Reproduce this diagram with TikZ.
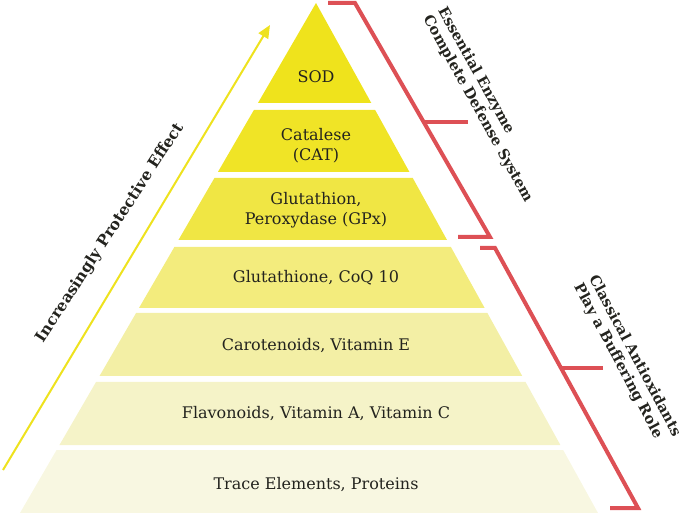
\documentclass[tikz,border=0pt]{standalone}
\usepackage{fontspec}
\setmainfont{DejaVu Serif}
\usetikzlibrary{arrows.meta}

\definecolor{bandA}{RGB}{239,227,28}
\definecolor{bandB}{RGB}{240,228,38}
\definecolor{bandC}{RGB}{240,230,68}
\definecolor{bandD}{RGB}{243,236,125}
\definecolor{bandE}{RGB}{243,239,165}
\definecolor{bandF}{RGB}{245,243,200}
\definecolor{bandG}{RGB}{248,247,225}
\definecolor{arrowyellow}{RGB}{238,226,30}
\definecolor{bracketred}{RGB}{221,80,85}
\definecolor{inkdark}{RGB}{35,35,30}

\tikzset{
	bandtext/.style={align=center, text=inkdark, inner sep=0pt, font=\fontsize{16}{20}\selectfont},
	sidetext/.style={align=left, text=inkdark, inner sep=0pt, font=\fontsize{14.5}{17}\selectfont\bfseries},
	bracket/.style={draw=bracketred, line width=4pt, line join=miter},
}

\begin{document}
\begin{tikzpicture}[x=1pt, y=-1pt]
	\useasboundingbox (0,0) rectangle (689,513);

	% pyramid, cut into bands
	\foreach \ya/\yb/\c in {3/103/bandA, 110/172/bandB, 178/240/bandC, 247/308/bandD, 313/376/bandE, 382/445/bandF, 450/513/bandG} {
			\pgfmathsetmacro{\la}{316-0.5804*(\ya-3)}
			\pgfmathsetmacro{\ra}{316+0.5529*(\ya-3)}
			\pgfmathsetmacro{\lb}{316-0.5804*(\yb-3)}
			\pgfmathsetmacro{\rb}{316+0.5529*(\yb-3)}
			\fill[\c] (\la,\ya) -- (\ra,\ya) -- (\rb,\yb) -- (\lb,\yb) -- cycle;
		}

	\node[bandtext] (sod) at (316,77) {SOD};
	\node[bandtext] (cat) at (316,146) {Catalese\\(CAT)};
	\node[bandtext] (gpx) at (316,210) {Glutathion,\\Peroxydase (GPx)};
	\node[bandtext] (coq) at (316,278) {Glutathione, CoQ 10};
	\node[bandtext] (carot) at (316,346) {Carotenoids, Vitamin E};
	\node[bandtext] (flav) at (316,414) {Flavonoids, Vitamin A, Vitamin C};
	\node[bandtext] (trace) at (316,485) {Trace Elements, Proteins};

	% arrow on the left
	\coordinate (tail) at (3,470);
	\coordinate (tip) at (270,25);
	\draw[arrowyellow, line width=2pt, -{Triangle[length=13pt, width=11pt]}] (tail) -- (tip);
	\node[sidetext, rotate=57, font=\fontsize{15.5}{18}\selectfont\bfseries] (effect) at (110,233) {Increasingly Protective Effect};

	% brackets on the right
	\draw[bracket] (328,3) -- (355,3) -- (490,237) -- (458,237);
	\draw[bracket] (424,122) -- (468,122);
	\node[sidetext, rotate=-61] (enzyme) at (485,105) {Essential Enzyme\\Complete Defense System};

	\draw[bracket] (480,248) -- (495,248) -- (638,508) -- (610,508);
	\draw[bracket] (561,368) -- (603,368);
	\node[sidetext, rotate=-62] (buffer) at (627,360) {Classical Antioxidants\\Play a Buffering Role};
\end{tikzpicture}
\end{document}
